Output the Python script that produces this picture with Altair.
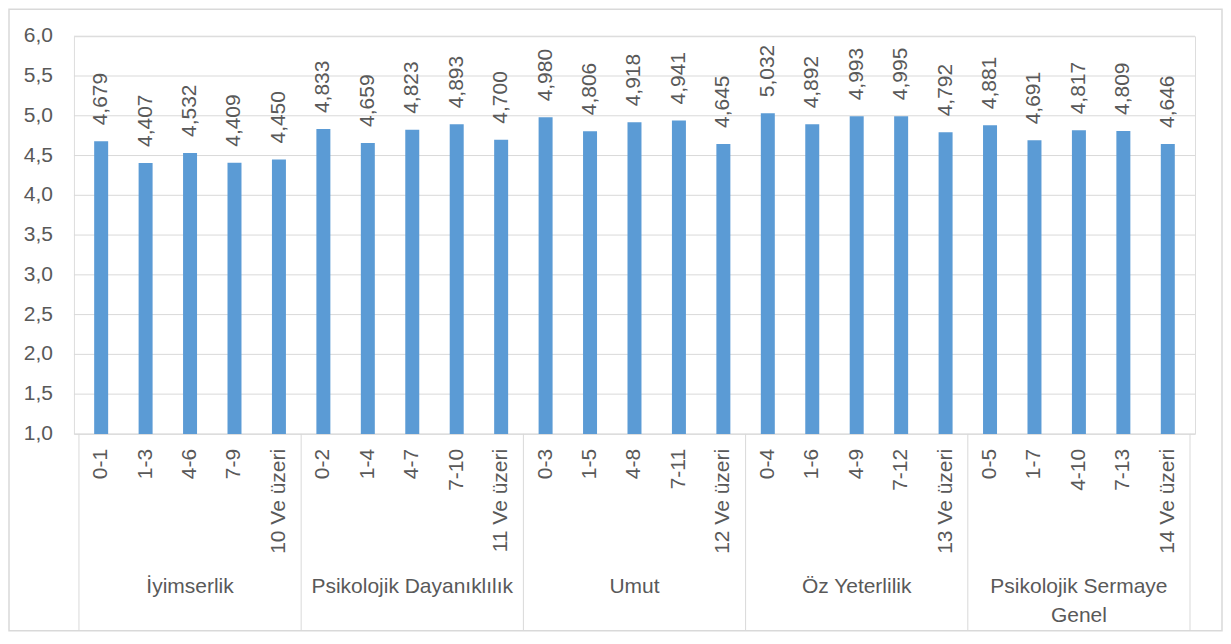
import altair as alt
import pandas as pd

groups = ["İyimserlik", "Psikolojik Dayanıklılık", "Umut", "Öz Yeterlilik", "Psikolojik Sermaye\nGenel"]
sub_labels = [
    ["0-1", "1-3", "4-6", "7-9", "10 Ve üzeri"],
    ["0-2", "1-4", "4-7", "7-10", "11 Ve üzeri"],
    ["0-3", "1-5", "4-8", "7-11", "12 Ve üzeri"],
    ["0-4", "1-6", "4-9", "7-12", "13 Ve üzeri"],
    ["0-5", "1-7", "4-10", "7-13", "14 Ve üzeri"],
]
values = [
    [4.679, 4.407, 4.532, 4.409, 4.450],
    [4.833, 4.659, 4.823, 4.893, 4.700],
    [4.980, 4.806, 4.918, 4.941, 4.645],
    [5.032, 4.892, 4.993, 4.995, 4.792],
    [4.881, 4.691, 4.817, 4.809, 4.646],
]
y_ticks = [1.0, 1.5, 2.0, 2.5, 3.0, 3.5, 4.0, 4.5, 5.0, 5.5, 6.0]

FONT = "Liberation Sans"
TXT = "#595959"
GRID = "#d9d9d9"
W, H = 1122, 398

rows = []
k = 0
for g, subs, vals in zip(groups, sub_labels, values):
    for s, v in zip(subs, vals):
        rows.append({"group": g, "sub": s, "value": v, "pos": k + 0.5})
        k += 1
df = pd.DataFrame(rows)

n = len(df)
gdf = pd.DataFrame({"group": groups, "pos": [i * 5 + 2.5 for i in range(len(groups))]})
bdf = pd.DataFrame({"b": [i * 5 for i in range(len(groups) + 1)]})
ydf = pd.DataFrame({"t": y_ticks})

xscale = alt.Scale(domain=[0, n], nice=False, zero=False)
yscale = alt.Scale(domain=[1, 6], nice=False, zero=False)

grid = alt.Chart(ydf).mark_rule(color=GRID, strokeWidth=1).encode(
    y=alt.Y("t:Q", scale=yscale, axis=None),
    x=alt.value(0),
    x2=alt.value(W),
)

ylabels = alt.Chart(ydf).transform_calculate(
    lbl="replace(format(datum.t, '.1f'), '.', ',')"
).mark_text(align="right", baseline="middle", font=FONT, fontSize=21, color=TXT).encode(
    y=alt.Y("t:Q", scale=yscale, axis=None),
    x=alt.value(-21),
    text="lbl:N",
)

bars = alt.Chart(df).mark_bar(color="#5b9bd5", size=14).encode(
    x=alt.X("pos:Q", scale=xscale,
            axis=alt.Axis(labels=False, ticks=False, grid=False, title=None,
                          domainColor=GRID, domainWidth=1)),
    y=alt.Y("value:Q", scale=yscale, axis=None),
    y2=alt.datum(1),
)

vlabels = alt.Chart(df).transform_calculate(
    lbl="replace(format(datum.value, '.3f'), '.', ',')"
).mark_text(angle=270, align="left", baseline="middle", dx=16,
            font=FONT, fontSize=21, color=TXT).encode(
    x=alt.X("pos:Q", scale=xscale, axis=None),
    y=alt.Y("value:Q", scale=yscale, axis=None),
    text="lbl:N",
)

sublabels = alt.Chart(df).mark_text(angle=270, align="right", baseline="middle",
                                    font=FONT, fontSize=21, color=TXT).encode(
    x=alt.X("pos:Q", scale=xscale, axis=None),
    y=alt.value(H + 15),
    text="sub:N",
)

glabels = alt.Chart(gdf).mark_text(align="center", baseline="alphabetic", lineBreak="\n",
                                   lineHeight=29, font=FONT, fontSize=21, color=TXT).encode(
    x=alt.X("pos:Q", scale=xscale, axis=None),
    y=alt.value(H + 159),
    text="group:N",
)

dividers = alt.Chart(bdf).mark_rule(color=GRID, strokeWidth=1).encode(
    x=alt.X("b:Q", scale=xscale, axis=None),
    y=alt.value(H),
    y2=alt.value(H + 197),
)

border = alt.Chart(pd.DataFrame({"a": [0]})).mark_rect(
    filled=False, stroke=GRID, strokeWidth=1.5
).encode(
    x=alt.value(-65), x2=alt.value(W + 27),
    y=alt.value(-27), y2=alt.value(H + 197),
)

chart = alt.layer(border, grid, dividers, bars, ylabels, vlabels, sublabels, glabels).properties(
    width=W, height=H, padding=0
).configure_view(stroke=None).configure(background="white")

chart.save("out.html", embed_options={"renderer": "svg", "actions": False})
